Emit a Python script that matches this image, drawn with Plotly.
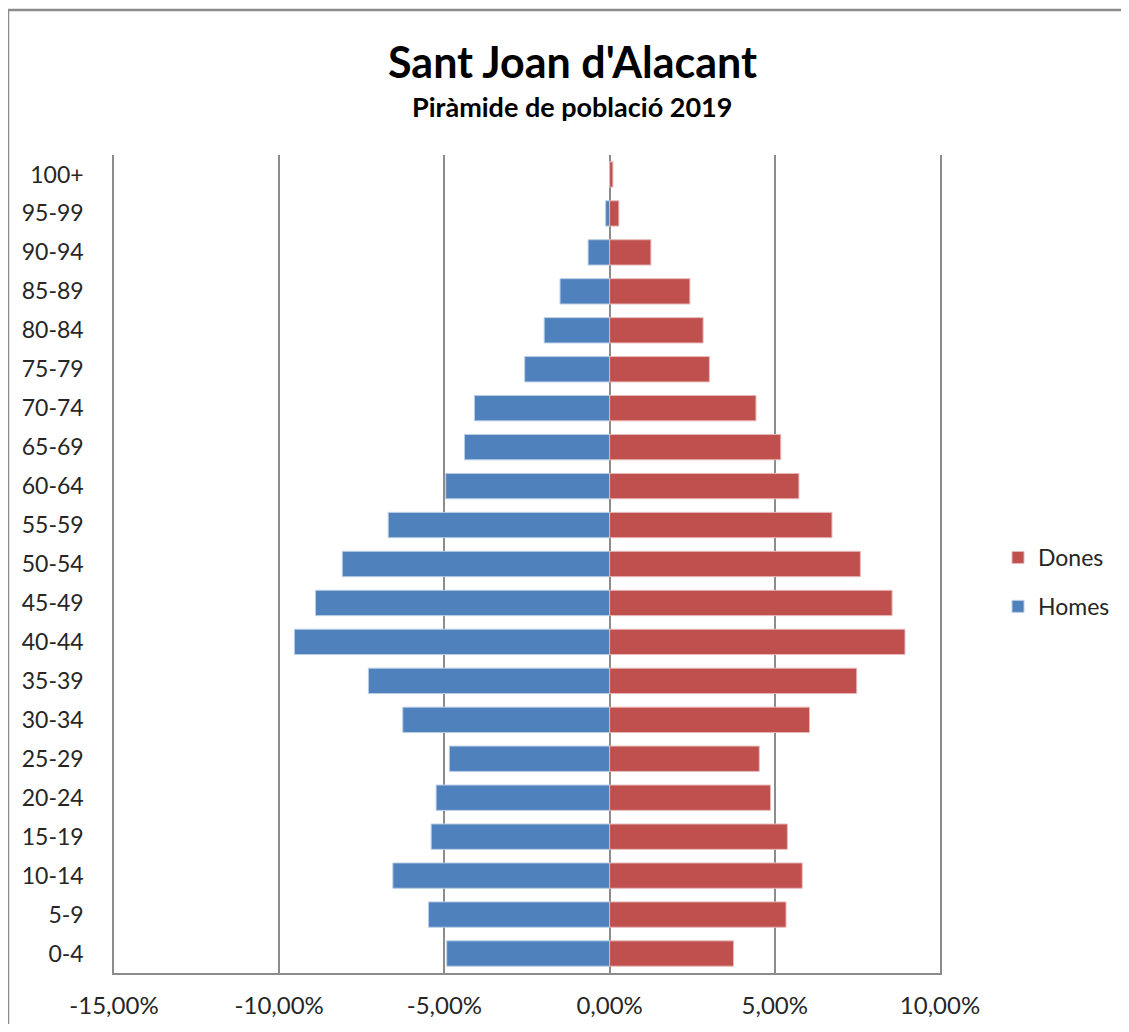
"""Population pyramid for Sant Joan d'Alacant, 2019 (share of total population)."""

import plotly.graph_objects as go

AGE_GROUPS = [
    "0-4", "5-9", "10-14", "15-19", "20-24", "25-29", "30-34", "35-39",
    "40-44", "45-49", "50-54", "55-59", "60-64", "65-69", "70-74", "75-79",
    "80-84", "85-89", "90-94", "95-99", "100+",
]
# percent of total population, men drawn on the negative side
HOMES = [
    -4.93, -5.48, -6.56, -5.40, -5.25, -4.85, -6.26, -7.30,
    -9.54, -8.90, -8.09, -6.70, -4.96, -4.39, -4.09, -2.57,
    -1.98, -1.50, -0.65, -0.12, 0.0,
]
DONES = [
    3.75, 5.34, 5.83, 5.38, 4.87, 4.53, 6.05, 7.48,
    8.94, 8.55, 7.59, 6.73, 5.73, 5.18, 4.43, 3.02,
    2.83, 2.43, 1.25, 0.28, 0.10,
]
X_TICKS = [-15, -10, -5, 0, 5, 10]
X_TICK_TEXT = ["-15,00%", "-10,00%", "-5,00%", "0,00%", "5,00%", "10,00%"]

FONT = "Lato, 'Open Sans', sans-serif"
GREY = "#8c8c8c"

# page body has an 8px margin, so the figure is a bit smaller than the window
W, H = 1113, 1016
PLOT_L, PLOT_R, PLOT_T, PLOT_B = 106, 932, 147, 965
PLOT_W, PLOT_H = PLOT_R - PLOT_L, PLOT_B - PLOT_T


def px_to_paper(x, y):
    return (x - PLOT_L) / PLOT_W, (PLOT_B - y) / PLOT_H


fig = go.Figure()
fig.add_trace(
    go.Bar(
        y=AGE_GROUPS, x=HOMES, name="Homes", orientation="h",
        legendgroup="h", legendrank=2,
        marker=dict(color="#4f81bd", line=dict(color="#b9cde5", width=1)),
    )
)
fig.add_trace(
    go.Bar(
        y=AGE_GROUPS, x=DONES, name="Dones", orientation="h",
        legendgroup="d", legendrank=1,
        marker=dict(color="#c0504d", line=dict(color="#e6b9b8", width=1)),
    )
)

tx, ty = px_to_paper(564, 54)
sx, sy = px_to_paper(564, 99)
lx, ly = px_to_paper(990, 574)

fig.update_layout(
    width=W,
    height=H,
    barmode="overlay",
    bargap=0.35,
    paper_bgcolor="white",
    plot_bgcolor="white",
    font=dict(family=FONT, size=23, color="#262626"),
    margin=dict(l=PLOT_L, r=W - PLOT_R, t=PLOT_T, b=H - PLOT_B, autoexpand=False),
    legend=dict(
        x=lx, y=ly, xanchor="left", yanchor="middle",
        traceorder="grouped", tracegroupgap=16,
        font=dict(size=23), itemwidth=30,
    ),
    xaxis=dict(
        range=[-15, 10],
        tickvals=X_TICKS,
        ticktext=X_TICK_TEXT,
        showgrid=True, gridcolor=GREY, gridwidth=1.5,
        zeroline=True, zerolinecolor=GREY, zerolinewidth=2,
        showline=True, linecolor=GREY, linewidth=2,
        ticks="", tickfont=dict(size=24), ticklabelstandoff=10,
    ),
    yaxis=dict(
        showgrid=False, zeroline=False,
        showline=True, mirror=True, linecolor=GREY, linewidth=1.5,
        ticks="", ticklabelstandoff=24, tickfont=dict(size=23),
    ),
    annotations=[
        dict(
            text="<b>Sant Joan d'Alacant</b>", x=tx, y=ty, xref="paper",
            yref="paper", xanchor="center", yanchor="middle",
            showarrow=False, font=dict(size=43, color="black"),
        ),
        dict(
            text="<b>Piràmide de població 2019</b>", x=sx, y=sy,
            xref="paper", yref="paper", xanchor="center", yanchor="middle",
            showarrow=False, font=dict(size=27, color="black"),
        ),
    ],
)

# outer chart frame (only top and left edges are inside the picture)
fx, fy = px_to_paper(0, 2)
fig.add_shape(type="line", xref="paper", yref="paper", x0=fx, x1=1.4,
              y0=fy, y1=fy, line=dict(color=GREY, width=2.5))
fig.add_shape(type="line", xref="paper", yref="paper", x0=fx, x1=fx,
              y0=fy, y1=-0.2, line=dict(color=GREY, width=2.5))

fig.write_html("out.html")
